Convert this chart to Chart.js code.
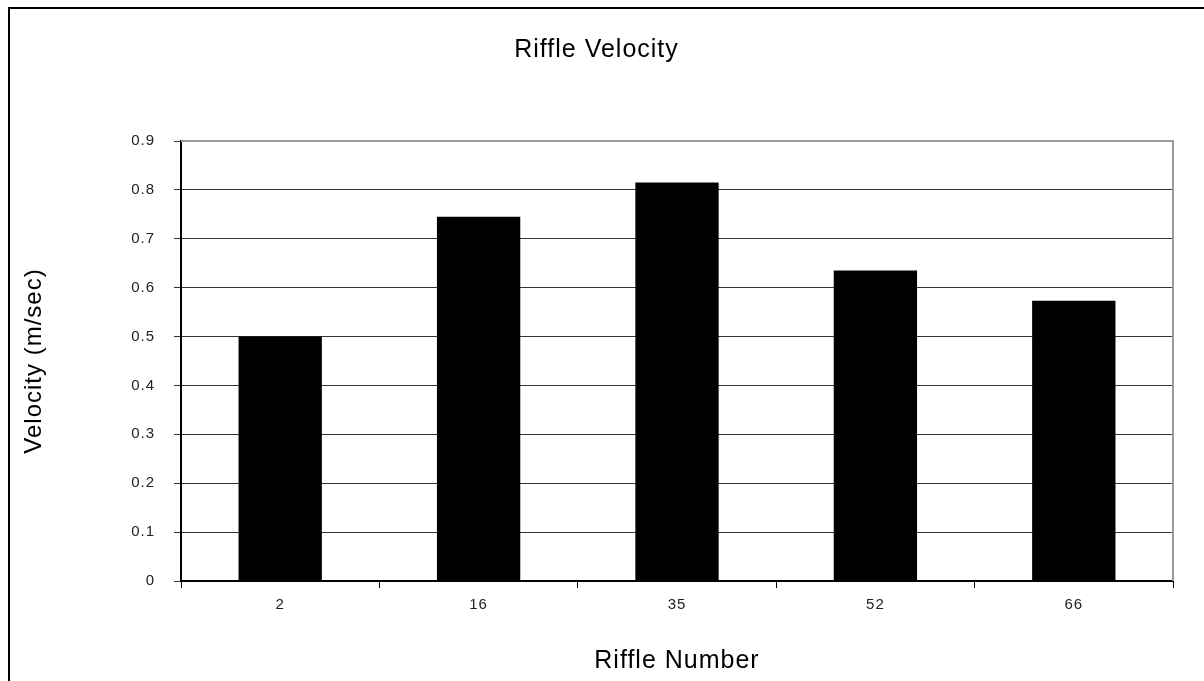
<!DOCTYPE html>
<html>
<head>
<meta charset="utf-8">
<script src="https://cdn.jsdelivr.net/npm/chart.js@4/dist/chart.umd.min.js"></script>
<style>
  html, body { margin: 0; padding: 0; background: #fff; }
  #wrap { position: relative; width: 1204px; height: 681px; }
</style>
</head>
<body>
<div id="wrap"><canvas id="riffleChart" width="1204" height="681"></canvas></div>
<script>
const riffles = ['2', '16', '35', '52', '66'];
const velocity = [0.50, 0.745, 0.815, 0.635, 0.573];
const yTicks = [0, 0.1, 0.2, 0.3, 0.4, 0.5, 0.6, 0.7, 0.8, 0.9];

const font = "'Liberation Sans', Arial, sans-serif";

// outer frame + grey plot border like the excel export
const framePlugin = {
  id: 'frame',
  beforeDraw(chart) {
    // excel text is a bit loosely spaced
    chart.ctx.letterSpacing = '1px';
  },
  afterDraw(chart) {
    const c = chart.ctx;
    const a = chart.chartArea;
    c.save();
    c.strokeStyle = '#000';
    c.lineWidth = 2;
    c.beginPath();
    c.moveTo(9, 700);
    c.lineTo(9, 8);
    c.lineTo(1210, 8);
    c.stroke();
    c.strokeStyle = '#999';
    c.beginPath();
    c.moveTo(a.left, a.top);
    c.lineTo(a.right, a.top);
    c.lineTo(a.right, a.bottom);
    c.stroke();
    c.restore();
  },
};

const ctx = document.getElementById('riffleChart');
const riffleChart = new Chart(ctx, {
  type: 'bar',
  data: {
    labels: riffles,
    datasets: [{
      label: 'Velocity',
      data: velocity,
      backgroundColor: '#000',
      borderWidth: 0,
      barPercentage: 1,
      categoryPercentage: 0.42,
    }],
  },
  options: {
    responsive: false,
    animation: false,
    layout: { padding: { left: 20, right: 31, top: 0, bottom: 5 } },
    plugins: {
      legend: { display: false },
      tooltip: { enabled: false },
      title: {
        display: true,
        text: 'Riffle Velocity',
        color: '#000',
        font: { family: font, size: 25, weight: 'normal' },
        padding: { top: 35, bottom: 76 },
      },
    },
    scales: {
      x: {
        grid: {
          offset: true,
          drawOnChartArea: false,
          drawTicks: true,
          tickLength: 7,
          color: '#000',
        },
        border: { color: '#000', width: 2 },
        ticks: {
          color: '#222',
          padding: 8,
          font: { family: font, size: 15 },
        },
        title: {
          display: true,
          text: 'Riffle Number',
          color: '#000',
          font: { family: font, size: 25 },
          padding: { top: 24, bottom: 0 },
        },
        afterFit(scale) { scale.height = 95; },
      },
      y: {
        min: 0,
        max: 0.9,
        afterBuildTicks(scale) { scale.ticks = yTicks.map((v) => ({ value: v })); },
        grid: {
          color: '#333',
          lineWidth: 1,
          tickLength: 7,
        },
        border: { color: '#000', width: 2 },
        ticks: {
          color: '#222',
          padding: 19,
          font: { family: font, size: 15 },
          callback: (v) => String(Math.round(v * 10) / 10),
        },
        title: {
          display: true,
          text: 'Velocity (m/sec)',
          color: '#000',
          font: { family: font, size: 24 },
          padding: { top: 0, bottom: 0 },
        },
        afterFit(scale) { scale.width = 161; },
      },
    },
  },
  plugins: [framePlugin],
});
</script>
</body>
</html>
